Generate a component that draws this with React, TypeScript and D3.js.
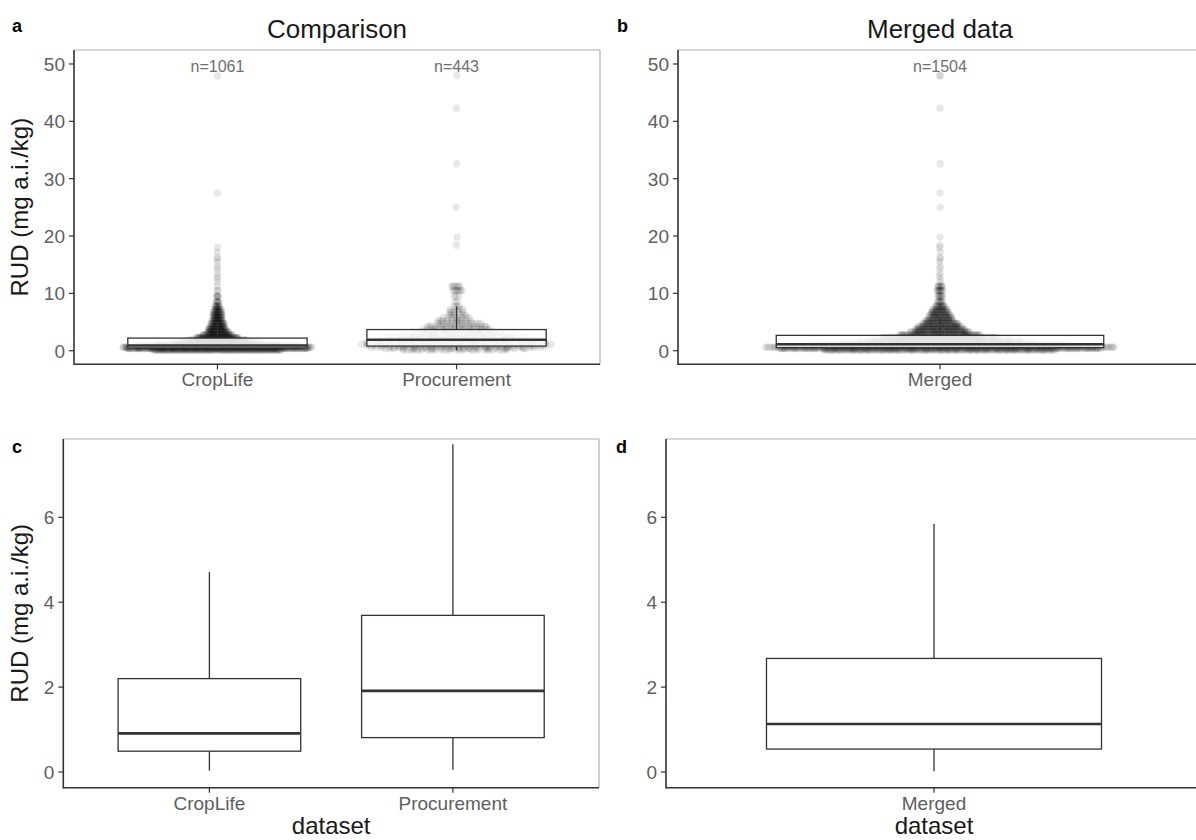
import * as d3 from "d3";
import React from "react";

// categories
const compareCats = ["CropLife", "Procurement"];
const mergedCats = ["Merged"];
const compareN = ["n=1061", "n=443"];
const mergedN = ["n=1504"];

const cropLifeBox = [0.03, 0.49, 0.91, 2.2, 4.71];
const procurementBox = [0.05, 0.81, 1.91, 3.69, 7.72];
const mergedBox = [0.02, 0.54, 1.13, 2.675, 5.85];

// frequency table of the point clouds (value level -> number of points), estimated from panel a
const levels = [0.125, 0.375, 0.625, 0.875, 1.125, 1.375, 1.625, 1.875, 2.25, 2.75, 3.25, 3.75,
  4.25, 4.75, 5.25, 5.75, 6.25, 6.75, 7.25, 7.75, 8.5, 9.5, 10.5, 11.25];
const cropLifeCounts = [125, 145, 160, 125, 70, 55, 48, 42, 55, 40, 30, 25,
  22, 18, 16, 14, 14, 12, 10, 8, 6, 5, 2, 1];
const procurementCounts = [24, 26, 35, 34, 28, 27, 28, 28, 43, 33, 22, 22,
  18, 15, 10, 8, 6, 5, 4, 3, 2, 3, 7, 6];
// isolated high values
const cropLifeOutliers = [12.0, 12.5, 13.0, 13.5, 14.3, 14.7, 15.5, 16.0, 16.3, 17.2, 18.0, 27.5, 47.9];
const procurementOutliers = [18.4, 19.8, 25.0, 32.6, 42.3, 48.0];

const nLabelY = 48.6;
const topTicks = [0, 10, 20, 30, 40, 50];
const bottomTicks = [0, 2, 4, 6];

const FONT = "'Liberation Sans', Arial, Helvetica, sans-serif";
const AXIS_DARK = "#333333";
const TICK_TEXT = "#606060";

function expand(counts: number[], extra: number[]) {
  const out: number[] = [];
  levels.forEach((lv, i) => {
    for (let k = 0; k < counts[i]; k++) out.push(lv);
  });
  return out.concat(extra);
}

function vdc(n: number) {
  let v = 0, denom = 1;
  while (n > 0) {
    denom *= 2;
    v += (n % 2) / denom;
    n = Math.floor(n / 2);
  }
  return v;
}

// quasirandom (beeswarm-like) horizontal offsets, width 0.4
function swarm(values: number[]) {
  const sorted = values.slice().sort((a, b) => a - b);
  const n = sorted.length;
  const sd = d3.deviation(sorted) || 1;
  const iqr = (d3.quantile(sorted, 0.75) as number) - (d3.quantile(sorted, 0.25) as number);
  const bw = 0.9 * Math.min(sd, iqr / 1.34) * Math.pow(n, -0.2);
  const dens = sorted.map(y => d3.sum(sorted, v => Math.exp(-0.5 * ((y - v) / bw) ** 2)));
  const maxD = d3.max(dens) as number;
  return sorted.map((y, i) => ({ y, dx: (vdc(i + 1) * 2 - 1) * 0.4 * dens[i] / maxD }));
}

type PanelProps = {
  x0: number; x1: number; y0: number; y1: number;
  cats: string[];
  yDomain: [number, number];
  yTicks: number[];
  boxes: number[][];
  clouds?: number[][];
  nLabels?: string[];
  title?: string;
  letter: string;
  letterX: number;
  letterY: number;
  yTitle?: boolean;
  xTitle?: boolean;
  labelGap: number;
};

const Panel = (p: PanelProps) => {
  const x = d3.scaleLinear().domain([0.4, p.cats.length + 0.6]).range([p.x0, p.x1]);
  const y = d3.scaleLinear().domain(p.yDomain).range([p.y1, p.y0]);
  const halfW = 0.375;
  const cx = (i: number) => x(i + 1);
  const swarms = (p.clouds || []).map(swarm);
  const midY = (p.y0 + p.y1) / 2;
  const midX = (p.x0 + p.x1) / 2;
  return (
    <g>
      <text x={p.letterX} y={p.letterY} fontSize={18} fontWeight="bold" fill="#000">{p.letter}</text>
      {p.title && (
        <text x={midX} y={38} textAnchor="middle" fontSize={26} fill="#1a1a1a">{p.title}</text>
      )}
      {/* points */}
      {swarms.map((s, gi) => (
        <g key={"s" + gi}>
          {s.map((d, j) => (
            <circle key={j} cx={x(gi + 1 + d.dx)} cy={y(d.y)} r={3.7} fill="#000" fillOpacity={0.09} />
          ))}
        </g>
      ))}
      {/* boxplots */}
      {p.boxes.map((b, i) => (
        <g key={"b" + i} stroke={AXIS_DARK} fill="none">
          <line x1={cx(i)} x2={cx(i)} y1={y(b[0])} y2={y(b[1])} strokeWidth={1.3} />
          <line x1={cx(i)} x2={cx(i)} y1={y(b[3])} y2={y(b[4])} strokeWidth={1.3} />
          <rect x={x(i + 1 - halfW)} y={y(b[3])} width={x(i + 1 + halfW) - x(i + 1 - halfW)}
            height={y(b[1]) - y(b[3])} fill="#fff" fillOpacity={p.clouds ? 0.85 : 1} strokeWidth={1.3} />
          <line x1={x(i + 1 - halfW)} x2={x(i + 1 + halfW)} y1={y(b[2])} y2={y(b[2])} strokeWidth={2.6} />
        </g>
      ))}
      {/* n labels */}
      {p.nLabels && p.nLabels.map((t, i) => (
        <text key={"n" + i} x={cx(i)} y={y(nLabelY)} textAnchor="middle" fontSize={16} fill="#707070">{t}</text>
      ))}
      {/* border + axes */}
      <line x1={p.x0} x2={p.x1} y1={p.y0} y2={p.y0} stroke="#b0b0b0" strokeWidth={1.2} />
      <line x1={p.x1} x2={p.x1} y1={p.y0} y2={p.y1} stroke="#b0b0b0" strokeWidth={1.2} />
      <line x1={p.x0} x2={p.x0} y1={p.y0} y2={p.y1 + 0.7} stroke={AXIS_DARK} strokeWidth={1.6} />
      <line x1={p.x0} x2={p.x1} y1={p.y1} y2={p.y1} stroke={AXIS_DARK} strokeWidth={1.6} />
      {p.yTicks.map(t => (
        <g key={"yt" + t}>
          <line x1={p.x0 - 5} x2={p.x0} y1={y(t)} y2={y(t)} stroke={AXIS_DARK} strokeWidth={1.2} />
          <text x={p.x0 - 9} y={y(t)} dy="0.36em" textAnchor="end" fontSize={19} fill={TICK_TEXT}>{t}</text>
        </g>
      ))}
      {p.cats.map((c, i) => (
        <g key={"xt" + c}>
          <line x1={cx(i)} x2={cx(i)} y1={p.y1} y2={p.y1 + 5} stroke={AXIS_DARK} strokeWidth={1.2} />
          <text x={cx(i)} y={p.y1 + p.labelGap} textAnchor="middle" fontSize={19} fill={TICK_TEXT}>{c}</text>
        </g>
      ))}
      {p.yTitle && (
        <text transform={`translate(28,${midY}) rotate(-90)`} textAnchor="middle" fontSize={24} fill="#1a1a1a">
          RUD (mg a.i./kg)
        </text>
      )}
      {p.xTitle && (
        <text x={midX} y={834} textAnchor="middle" fontSize={24} fill="#1a1a1a">dataset</text>
      )}
    </g>
  );
};

export default function App() {
  const cropLife = expand(cropLifeCounts, cropLifeOutliers);
  const procurement = expand(procurementCounts, procurementOutliers);
  const mergedVals = cropLife.concat(procurement);
  const topY: [number, number] = [-2.37, 52.44];
  const botY: [number, number] = [-0.37, 7.845];
  return (
    <svg width={1196} height={840} style={{ position: "absolute", left: 0, top: 0, background: "#fff" }}
      fontFamily={FONT}>
      <rect width={1196} height={840} fill="#fff" />
      <Panel x0={74} x1={600} y0={50} y1={364.3} cats={compareCats} yDomain={topY} yTicks={topTicks}
        boxes={[cropLifeBox, procurementBox]} clouds={[cropLife, procurement]} nLabels={compareN}
        title="Comparison" letter="a" letterX={12} letterY={32} yTitle labelGap={22} />
      <Panel x0={678} x1={1202} y0={50} y1={364.3} cats={mergedCats} yDomain={topY} yTicks={topTicks}
        boxes={[mergedBox]} clouds={[mergedVals]} nLabels={mergedN}
        title="Merged data" letter="b" letterX={617} letterY={32} labelGap={22} />
      <Panel x0={63.3} x1={599} y0={439} y1={787.7} cats={compareCats} yDomain={botY} yTicks={bottomTicks}
        boxes={[cropLifeBox, procurementBox]} letter="c" letterX={12} letterY={453} yTitle xTitle labelGap={22} />
      <Panel x0={666} x1={1202} y0={439} y1={787.7} cats={mergedCats} yDomain={botY} yTicks={bottomTicks}
        boxes={[mergedBox]} letter="d" letterX={616} letterY={453} xTitle labelGap={22} />
    </svg>
  );
}
